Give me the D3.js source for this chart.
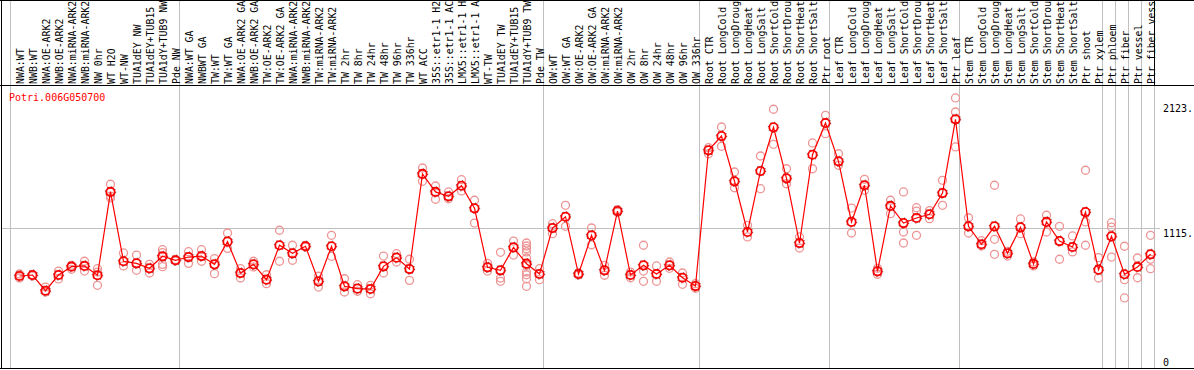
<!DOCTYPE html>
<html lang="en">
<head>
<meta charset="UTF-8">
<title>Potri.006G050700</title>
<script src="https://d3js.org/d3.v7.min.js"></script>
<style>
  body { margin: 0; background: #fff; }
  svg { display: block; font-family: "DejaVu Sans Mono", monospace; font-size: 10px; }
</style>
</head>
<body>
<svg></svg>
<script>
// sample names, in plot order
const categories = [
  "NWA:WT", "NWB:WT", "NWA:OE-ARK2", "NWB:OE-ARK2", "NWA:miRNA-ARK2", "NWB:miRNA-ARK2",
  "NW 0hr", "WT H2O", "WT-NW", "TUA1dEY NW", "TUA1dEY+TUB15 NW", "TUA1dY+TUB9 NW", "Pde NW",
  "NWA:WT GA", "NWBWT GA", "TW:WT", "TW:WT GA", "NWA:OE-ARK2 GA", "NWB:OE-ARK2 GA",
  "TW:OE-ARK2", "TW:OE-ARK2 GA", "NWA:miRNA-ARK2", "NWB:miRNA-ARK2", "TW:miRNA-ARK2",
  "TW:miRNA-ARK2", "TW 2hr", "TW 8hr", "TW 24hr", "TW 48hr", "TW 96hr", "TW 336hr",
  "WT ACC", "35S::etr1-1 H2O", "35S::etr1-1 ACC", "LMX5::etr1-1 H2O", "LMX5::etr1-1 ACC",
  "WT-TW", "TUA1dEY TW", "TUA1dEY+TUB15 TW", "TUA1dY+TUB9 TW", "Pde TW",
  "OW:WT", "OW:WT GA", "OW:OE-ARK2", "OW:OE-ARK2 GA", "OW:miRNA-ARK2", "OW:miRNA-ARK2",
  "OW 2hr", "OW 8hr", "OW 24hr", "OW 48hr", "OW 96hr", "OW 336hr",
  "Root CTR", "Root LongCold", "Root LongDrought", "Root LongHeat", "Root LongSalt",
  "Root ShortCold", "Root ShortDrought", "Root ShortHeat", "Root ShortSalt", "Ptr root",
  "Leaf CTR", "Leaf LongCold", "Leaf LongDrought", "Leaf LongHeat", "Leaf LongSalt",
  "Leaf ShortCold", "Leaf ShortDrought", "Leaf ShortHeat", "Leaf ShortSalt", "Ptr leaf",
  "Stem CTR", "Stem LongCold", "Stem LongDrought", "Stem LongHeat", "Stem LongSalt",
  "Stem ShortCold", "Stem ShortDrought", "Stem ShortHeat", "Stem ShortSalt",
  "Ptr shoot", "Ptr xylem", "Ptr phloem", "Ptr fiber", "Ptr vessel", "Ptr fiber vessel"
];

// mean expression per sample
const means = [
  730, 738, 611, 738, 805, 811, 736, 1408, 849, 832, 792, 889, 857,
  883, 891, 824, 1007, 754, 824, 700, 978, 913, 970, 687, 970, 647, 628, 625, 808, 878, 786,
  1553, 1408, 1373, 1458, 1276, 800, 776, 961, 829, 746,
  1117, 1208, 746, 1058, 776, 1254, 738, 816, 746, 816, 716, 649,
  1744, 1859, 1494, 1085, 1577, 1929, 1518, 996, 1708, 1964,
  1655, 1166, 1462, 768, 1295, 1157, 1198, 1228, 1399, 1994,
  1131, 986, 1131, 913, 1123, 827, 1166, 1012, 964, 1246, 781,
  1050, 744, 803, 905
];

// individual replicates per sample
const replicates = [
  [746, 714], [738, 730], [641, 601], [770, 706], [816, 784], [849, 770], [789, 762, 655],
  [1470, 1375, 1360], [916, 811], [899, 776], [824, 754], [942, 918, 824, 805], [863, 851],
  [926, 832], [942, 849], [870, 749], [1077, 953], [789, 714], [849, 803], [740, 668],
  [1099, 849], [978, 857], [976, 964], [728, 641], [1058, 889], [708, 601], [660, 607],
  [655, 587], [891, 754], [910, 843], [865, 695],
  [1601, 1494], [1456, 1349], [1408, 1353], [1507, 1416], [1341, 1157], [832, 770],
  [921, 714, 687], [1012, 899], [996, 972, 950, 924, 875, 816, 762, 740, 708, 647], [789, 700],
  [1152, 1071], [1300, 1131], [754, 738], [1117, 982], [816, 736], [1266, 1246], [762, 716],
  [978, 770, 687], [811, 687], [843, 792], [754, 663], [668, 631],
  [1765, 1716], [1932, 1776], [1569, 1442], [1139, 1045], [1698, 1434], [2075, 1792],
  [1595, 1474], [1045, 956], [1803, 1595], [2026, 1878],
  [1716, 1623], [1278, 1077], [1510, 1421], [792, 744], [1341, 1233], [1408, 1085, 996],
  [1281, 1254, 1058], [1257, 1192], [1502, 1300], [2166, 2053, 1771],
  [1200, 1077], [1015, 972], [1462, 1026, 905], [929, 891], [1190, 1071], [843, 811],
  [1220, 1085], [1131, 865], [1053, 924], [1583, 1166, 978], [878, 714],
  [1160, 1125, 883], [970, 700, 553], [875, 716], [1058, 865, 789]
];

// indices where a new sample group starts (vertical separators)
const groupBreaks = [0, 13, 41, 53, 63, 73, 84, 85, 86, 87, 88];
const yTicks = [0, 1115, 2123];
const gridValues = [1115];
const geneName = "Potri.006G050700";
const maxLabelChars = 14; // the label strip only has room for 14 characters

const width = 1194, height = 370;
const labelBottom = 85.5, plotBottom = 368.5;
const step = 13, left = 10.5;
const n = categories.length;

const svg = d3.select('svg')
  .attr('width', width)
  .attr('height', height);

const x = d3.scaleBand()
  .domain(d3.range(n))
  .range([left, left + step * n]);
const cx = i => x(i) + 9;
const breakX = b => (b < n ? x(b) : x(n - 1) + step);

const y = d3.scaleLinear()
  .domain([0, 2123])
  .range([366.5, 103.3]);

// separators
svg.append('g').selectAll('line')
  .data(groupBreaks)
  .join('line')
  .attr('x1', breakX).attr('x2', breakX)
  .attr('y1', 0).attr('y2', plotBottom)
  .attr('stroke', '#c0c0c0');

svg.append('g').selectAll('line')
  .data(gridValues)
  .join('line')
  .attr('x1', 1).attr('x2', 1160)
  .attr('y1', d => Math.round(y(d)) + 0.5).attr('y2', d => Math.round(y(d)) + 0.5)
  .attr('stroke', '#c0c0c0');

// frame
const frame = svg.append('g').attr('stroke', '#000');
frame.append('line').attr('x1', 0).attr('x2', width).attr('y1', 0.5).attr('y2', 0.5);
frame.append('line').attr('x1', 0).attr('x2', width).attr('y1', labelBottom).attr('y2', labelBottom);
frame.append('line').attr('x1', 0).attr('x2', width).attr('y1', plotBottom).attr('y2', plotBottom);
frame.append('line').attr('x1', 1.5).attr('x2', 1.5).attr('y1', 0).attr('y2', plotBottom);
frame.append('line').attr('x1', breakX(n)).attr('x2', breakX(n)).attr('y1', 0).attr('y2', labelBottom);

// rotated sample labels
svg.append('g').selectAll('text')
  .data(categories)
  .join('text')
  .attr('transform', (d, i) => `translate(${cx(i) + 4},84) rotate(-90)`)
  .attr('font-size', 9.9)
  .attr('fill', '#000')
  .text(d => d.slice(0, maxLabelChars));

// right axis
const axis = svg.append('g')
  .attr('transform', 'translate(1160,0)')
  .call(d3.axisRight(y).tickValues(yTicks).tickSize(0).tickPadding(3)
    .tickFormat(d => d === 0 ? '0' : d + '.'));
axis.select('.domain').remove();
axis.selectAll('text')
  .attr('font-family', '"DejaVu Sans Mono", monospace')
  .attr('font-size', 10)
  .attr('fill', '#000')
  .attr('dy', d => d === 0 ? '-0.1em' : '0.8em');

// gene name
svg.append('text')
  .attr('x', 9).attr('y', 101)
  .attr('fill', '#f00')
  .text(geneName);

// replicate circles
const reps = replicates.flatMap((vals, i) => vals.map(v => ({ i, v })));
svg.append('g').selectAll('circle')
  .data(reps)
  .join('circle')
  .attr('cx', d => cx(d.i))
  .attr('cy', d => y(d.v))
  .attr('r', 4)
  .attr('fill', 'none')
  .attr('stroke', '#ee9494')
  .attr('stroke-width', 1.3);

// mean line
const line = d3.line()
  .x((d, i) => cx(i))
  .y(d => y(d));
svg.append('path')
  .datum(means)
  .attr('d', line)
  .attr('fill', 'none')
  .attr('stroke', '#f00')
  .attr('stroke-width', 1.2);

// mean markers
const meanG = svg.append('g');
meanG.selectAll('circle.m')
  .data(means)
  .join('circle')
  .attr('class', 'm')
  .attr('cx', (d, i) => cx(i))
  .attr('cy', d => y(d))
  .attr('r', 4.2)
  .attr('fill', 'none')
  .attr('stroke', '#f00')
  .attr('stroke-width', 1.8);
meanG.selectAll('circle.o')
  .data(means)
  .join('circle')
  .attr('class', 'o')
  .attr('cx', (d, i) => cx(i))
  .attr('cy', d => y(d))
  .attr('r', 5.2)
  .attr('fill', 'none')
  .attr('stroke', '#600')
  .attr('stroke-width', 0.8)
  .attr('stroke-dasharray', '1,3.1');
</script>
</body>
</html>
